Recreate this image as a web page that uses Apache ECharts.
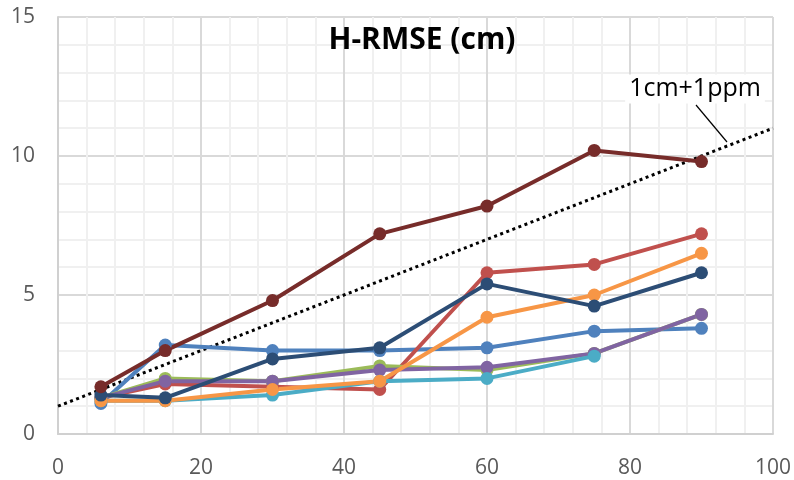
<!DOCTYPE html>
<html>
<head>
<meta charset="utf-8">
<script src="https://cdn.jsdelivr.net/npm/echarts@6/dist/echarts.min.js"></script>
<style>html,body{margin:0;padding:0;background:#fff}#c{width:794px;height:480px}</style>
</head>
<body>
<div id="c"></div>
<script>
const distances = [6, 15, 30, 45, 60, 75, 90];
const xTicks = [0, 20, 40, 60, 80, 100];
const yTicks = [0, 5, 10, 15];
const sBlue     = [1.1, 3.2, 3.0, 3.0, 3.1, 3.7, 3.8];
const sRed      = [1.3, 1.8, 1.7, 1.6, 5.8, 6.1, 7.2];
const sGreen    = [1.3, 2.0, 1.9, 2.45, 2.3, 2.9, 4.3];
const sPurple   = [1.3, 1.9, 1.9, 2.3, 2.4, 2.9, 4.3];
const sTeal     = [1.2, 1.2, 1.4, 1.9, 2.0, 2.8];
const sOrange   = [1.2, 1.2, 1.6, 1.9, 4.2, 5.0, 6.5];
const sNavy     = [1.4, 1.3, 2.7, 3.1, 5.4, 4.6, 5.8];
const sDarkRed  = [1.7, 3.0, 4.8, 7.2, 8.2, 10.2, 9.8];
const specX = [0, 100];
const specY = [1, 11];
const specLabel = '1cm+1ppm';
const titleText = 'H-RMSE (cm)';

const seriesDefs = [
  [sBlue, '#4F81BD'], [sRed, '#C0504D'], [sGreen, '#9BBB59'], [sPurple, '#8064A2'],
  [sTeal, '#4BACC6'], [sOrange, '#F79646'], [sNavy, '#2C4D75'], [sDarkRed, '#772C2A']
];
const series = seriesDefs.map(([vals, col]) => ({
  type: 'line',
  data: vals.map((v, i) => [distances[i], v]),
  lineStyle: { color: col, width: 4 },
  itemStyle: { color: col },
  symbol: 'circle', symbolSize: 13, showSymbol: true,
  emphasis: { disabled: true }, animation: false
}));
series.unshift({
  type: 'line',
  data: specX.map((x, i) => [x, specY[i]]),
  symbol: 'none',
  lineStyle: { color: '#000', width: 3, type: [3, 3.5] },
  z: 1, animation: false
});

const chart = echarts.init(document.getElementById('c'), null, { renderer: 'canvas' });
chart.setOption({
  animation: false,
  grid: { left: 58, right: 19, top: 17, bottom: 46 },
  title: {
    text: titleText, left: 422, top: 25, textAlign: 'center',
    textStyle: { fontFamily: 'Open Sans', fontWeight: 'bold', fontSize: 30, color: '#000' },
    padding: 0
  },
  xAxis: {
    type: 'value', min: xTicks[0], max: xTicks[xTicks.length - 1], interval: 20,
    axisLine: { show: true, lineStyle: { color: '#d0d0d0', width: 2 } },
    axisTick: { show: false },
    axisLabel: { fontFamily: 'Open Sans', fontSize: 21, color: '#595959', margin: 24 },
    splitLine: { show: true, lineStyle: { color: '#d9d9d9', width: 2 } },
    minorTick: { show: false, splitNumber: 5 },
    minorSplitLine: { show: true, lineStyle: { color: '#f0f0f0', width: 2 } }
  },
  yAxis: {
    type: 'value', min: yTicks[0], max: yTicks[yTicks.length - 1], interval: 5,
    axisLine: { show: true, lineStyle: { color: '#d0d0d0', width: 2 } },
    axisTick: { show: false },
    axisLabel: { fontFamily: 'Open Sans', fontSize: 21, color: '#595959', margin: 23 },
    splitLine: { show: true, lineStyle: { color: '#d9d9d9', width: 2 } },
    minorTick: { show: false, splitNumber: 5 },
    minorSplitLine: { show: true, lineStyle: { color: '#f0f0f0', width: 2 } }
  },
  series: series,
  graphic: [
    { type: 'line', shape: { x1: 696, y1: 105, x2: 727, y2: 142 }, style: { stroke: '#000', lineWidth: 1.2 }, z: 10 },
    { type: 'text', x: 695, y: 89, z: 10,
      style: { text: specLabel, fontFamily: 'Open Sans', fontSize: 25, fill: '#000',
               align: 'center', verticalAlign: 'middle', backgroundColor: '#fff', padding: [2, 4] } }
  ]
});
</script>
</body>
</html>
